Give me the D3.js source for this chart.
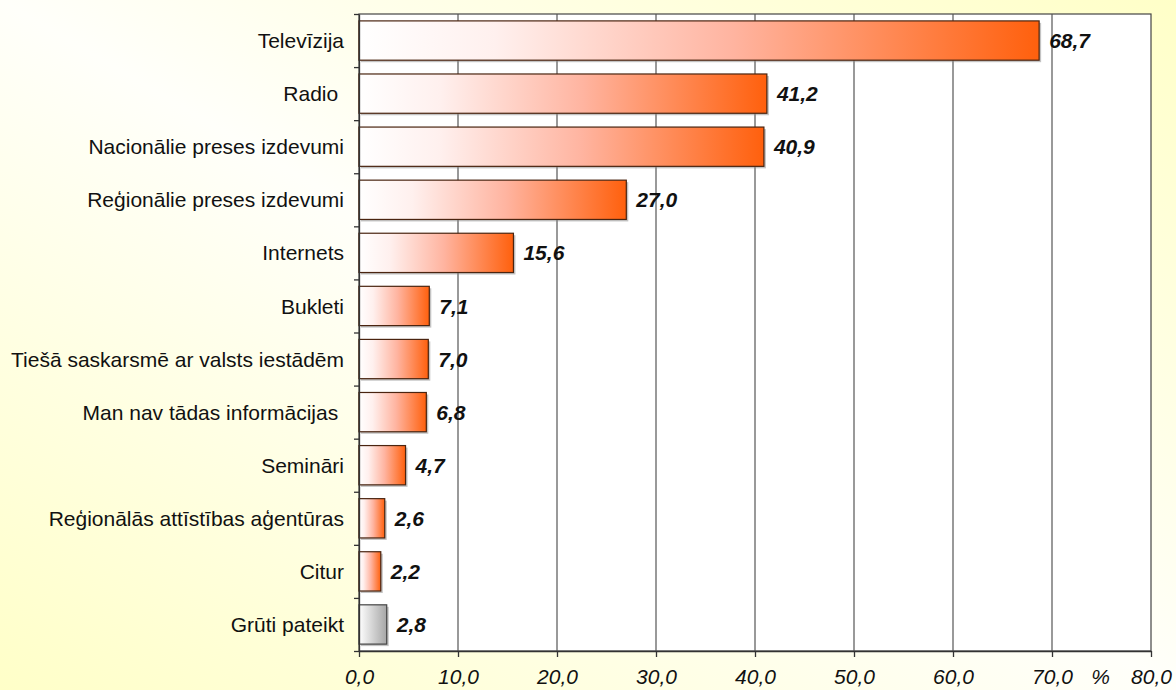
<!DOCTYPE html>
<html>
<head>
<meta charset="utf-8">
<script src="https://cdn.jsdelivr.net/npm/d3@7"></script>
<style>
  body { margin: 0; }
  svg { display: block; }
  text { font-family: "Liberation Sans", Arial, sans-serif; white-space: pre; }
</style>
</head>
<body>
<svg class="chart"></svg>
<script>
// data
var categories = ["Televīzija", "Radio ", "Nacionālie preses izdevumi", "Reģionālie preses izdevumi",
  "Internets", "Bukleti", "Tiešā saskarsmē ar valsts iestādēm", "Man nav tādas informācijas ",
  "Semināri", "Reģionālās attīstības aģentūras", "Citur", "Grūti pateikt"];
var values = [68.7, 41.2, 40.9, 27.0, 15.6, 7.1, 7.0, 6.8, 4.7, 2.6, 2.2, 2.8];
var greyCats = ["Grūti pateikt"];
var xTicks = [0, 10, 20, 30, 40, 50, 60, 70, 80];

var data = categories.map(function(c, i) { return {name: c, value: values[i]}; });

var screen = { width: 1176, height: 690 };
var margins = { top: 14, bottom: 39, left: 359, right: 25 };
var width = screen.width - margins.left - margins.right;
var height = screen.height - margins.top - margins.bottom;

var svg = d3.select(".chart")
  .attr("width", screen.width)
  .attr("height", screen.height);

var defs = svg.append("defs");

// background gradient: yellow corners, pale diagonal
var bg = defs.append("linearGradient").attr("id", "bg")
  .attr("x1", 0).attr("y1", 1).attr("x2", 1).attr("y2", 0);
bg.append("stop").attr("offset", "0%").attr("stop-color", "#ffffc8");
bg.append("stop").attr("offset", "50%").attr("stop-color", "#fffffa");
bg.append("stop").attr("offset", "100%").attr("stop-color", "#ffffc8");

var orange = defs.append("linearGradient").attr("id", "orange");
orange.append("stop").attr("offset", "0%").attr("stop-color", "#ffffff");
orange.append("stop").attr("offset", "20%").attr("stop-color", "#fff0ee");
orange.append("stop").attr("offset", "55%").attr("stop-color", "#ffb4a0");
orange.append("stop").attr("offset", "100%").attr("stop-color", "#ff600d");

var grey = defs.append("linearGradient").attr("id", "grey");
grey.append("stop").attr("offset", "0%").attr("stop-color", "#ffffff");
grey.append("stop").attr("offset", "100%").attr("stop-color", "#a6a6a6");

svg.append("rect")
  .attr("width", screen.width)
  .attr("height", screen.height)
  .attr("fill", "url(#bg)");

// scales
var xScale = d3.scaleLinear()
  .domain([0, 80])
  .range([0, width]);
var yScale = d3.scaleBand()
  .domain(categories)
  .range([0, height])
  .paddingInner(0.26)
  .paddingOuter(0.13);
var yEdges = d3.scaleLinear()
  .domain([0, categories.length])
  .range([0, height]);

var plotLand = svg.append("g")
  .classed("plot", true)
  .attr("transform", "translate(" + margins.left + "," + margins.top + ")");

plotLand.append("rect")
  .attr("width", width)
  .attr("height", height)
  .attr("fill", "white")
  .attr("stroke", "#444")
  .attr("stroke-width", 1.2);

// gridlines
plotLand.selectAll("line.grid")
  .data(xTicks.slice(1, -1))
  .enter()
  .append("line")
  .classed("grid", true)
  .attr("x1", function(d) { return xScale(d); })
  .attr("x2", function(d) { return xScale(d); })
  .attr("y1", 0)
  .attr("y2", height)
  .attr("stroke", "#555")
  .attr("stroke-width", 1.2);

// shadows
plotLand.selectAll("rect.shadow")
  .data(data)
  .enter()
  .append("rect")
  .classed("shadow", true)
  .attr("x", 2)
  .attr("y", function(d) { return yScale(d.name) + 2; })
  .attr("width", function(d) { return xScale(d.value); })
  .attr("height", yScale.bandwidth())
  .attr("fill", "#888")
  .attr("opacity", 0.5);

// bars
plotLand.selectAll("rect.bar")
  .data(data)
  .enter()
  .append("rect")
  .classed("bar", true)
  .attr("x", 0)
  .attr("y", function(d) { return yScale(d.name); })
  .attr("width", function(d) { return xScale(d.value); })
  .attr("height", yScale.bandwidth())
  .attr("fill", function(d) { return greyCats.indexOf(d.name) >= 0 ? "url(#grey)" : "url(#orange)"; })
  .attr("stroke", function(d) { return greyCats.indexOf(d.name) >= 0 ? "#444" : "#4a2410"; })
  .attr("stroke-width", 1.2);

// value labels
plotLand.selectAll("text.val")
  .data(data)
  .enter()
  .append("text")
  .classed("val", true)
  .attr("x", function(d) { return xScale(d.value) + 10; })
  .attr("y", function(d) { return yScale(d.name) + yScale.bandwidth() / 2; })
  .attr("dy", "0.36em")
  .attr("font-size", 21)
  .attr("font-weight", "bold")
  .attr("font-style", "italic")
  .attr("fill", "#111")
  .text(function(d) { return d3.format(".1f")(d.value).replace(".", ","); });

// category labels
plotLand.selectAll("text.cat")
  .data(data)
  .enter()
  .append("text")
  .classed("cat", true)
  .attr("x", -15)
  .attr("y", function(d) { return yScale(d.name) + yScale.bandwidth() / 2; })
  .attr("dy", "0.36em")
  .attr("text-anchor", "end")
  .attr("font-size", 21)
  .attr("fill", "#111")
  .text(function(d) { return d.name; });

// y axis: ticks on band edges
var yAxis = d3.axisLeft(yEdges)
  .tickValues(d3.range(categories.length + 1))
  .tickSize(5)
  .tickSizeOuter(0)
  .tickFormat("");
plotLand.append("g").classed("yAxis", true).call(yAxis)
  .call(function(g) {
    g.selectAll("path, line").attr("stroke", "#333").attr("stroke-width", 1.3);
  });

// x axis
var xAxis = d3.axisBottom(xScale)
  .tickValues(xTicks)
  .tickSize(6)
  .tickSizeOuter(0)
  .tickPadding(12)
  .tickFormat(function(d) { return d3.format(".1f")(d).replace(".", ","); });
plotLand.append("g").classed("xAxis", true)
  .attr("transform", "translate(0," + height + ")")
  .call(xAxis)
  .call(function(g) {
    g.selectAll("path, line").attr("stroke", "#333").attr("stroke-width", 1.3);
    g.selectAll("text")
      .attr("font-family", "Liberation Sans, Arial, sans-serif")
      .attr("font-size", 21)
      .attr("font-style", "italic")
      .attr("fill", "#111");
  });

plotLand.append("text")
  .attr("x", (xScale(70) + xScale(80)) / 2 - 1)
  .attr("y", height + 18)
  .attr("dy", "0.71em")
  .attr("text-anchor", "middle")
  .attr("font-size", 21)
  .attr("font-style", "italic")
  .attr("fill", "#111")
  .text("%");
</script>
</body>
</html>
